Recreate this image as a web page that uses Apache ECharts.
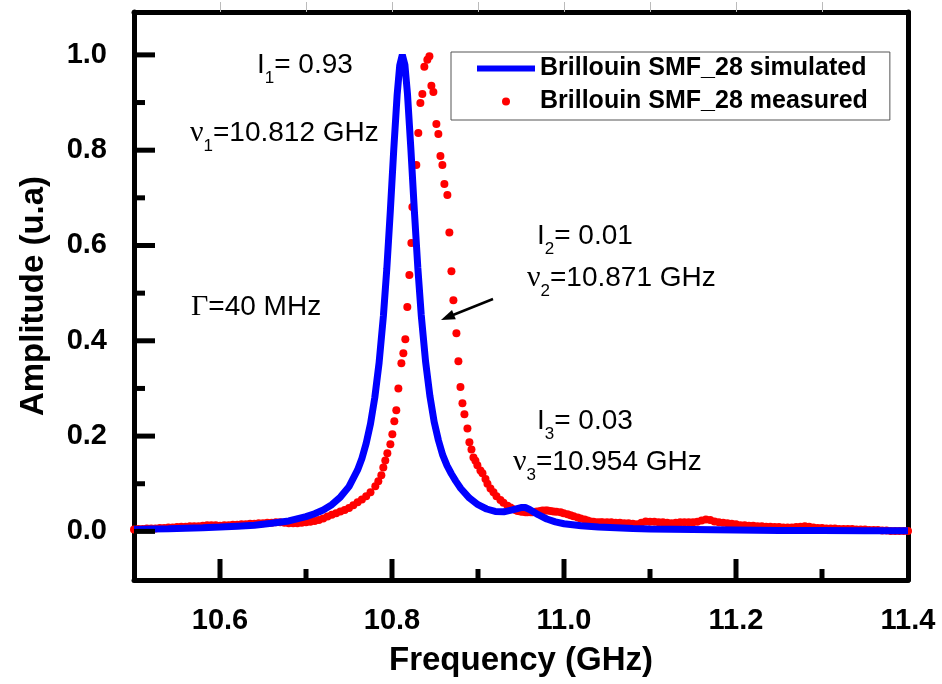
<!DOCTYPE html>
<html><head><meta charset="utf-8">
<script src="https://cdn.jsdelivr.net/npm/echarts@6/dist/echarts.min.js"></script>
<style>html,body{margin:0;padding:0;background:#fff}#c{width:942px;height:684px}</style>
</head><body><div id="c"></div><script>
// ---- data ----
const freqSim = [10.50,10.52,10.54,10.56,10.58,10.60,10.62,10.64,10.66,10.68,10.70,10.71,10.72,10.73,10.74,10.75,10.76,10.765,10.77,10.775,10.78,10.785,10.79,10.794,10.798,10.802,10.806,10.809,10.812,10.815,10.818,10.822,10.826,10.830,10.834,10.839,10.844,10.849,10.854,10.859,10.864,10.869,10.874,10.88,10.89,10.90,10.91,10.92,10.93,10.94,10.95,10.955,10.96,10.97,10.98,10.99,11.00,11.02,11.04,11.06,11.08,11.10,11.15,11.20,11.25,11.30,11.35,11.40];
const ampSim = [0.004,0.005,0.0055,0.0065,0.0075,0.009,0.011,0.013,0.017,0.022,0.031,0.037,0.045,0.056,0.072,0.094,0.129,0.153,0.185,0.226,0.281,0.354,0.452,0.552,0.671,0.800,0.917,0.978,1.0,0.979,0.918,0.801,0.673,0.554,0.454,0.357,0.285,0.230,0.191,0.160,0.138,0.121,0.106,0.090,0.070,0.056,0.047,0.042,0.041,0.045,0.050,0.050,0.046,0.035,0.026,0.020,0.016,0.012,0.009,0.0075,0.006,0.005,0.004,0.003,0.002,0.0017,0.0014,0.0012];

const freqMeas = [10.500,10.505,10.510,10.515,10.520,10.525,10.530,10.535,10.540,10.545,10.550,10.555,10.560,10.565,10.570,10.575,10.580,10.585,10.590,10.595,10.600,10.605,10.610,10.615,10.620,10.625,10.630,10.635,10.640,10.645,10.650,10.655,10.660,10.665,10.670,10.675,10.680,10.685,10.690,10.695,10.700,10.705,10.710,10.715,10.720,10.725,10.730,10.735,10.740,10.745,10.750,10.755,10.760,10.765,10.770,10.775,
10.7806,10.7841,10.7876,10.7899,10.7922,10.7946,10.7981,10.8004,10.8027,10.8050,10.8074,10.8109,10.8132,10.8155,10.8178,10.8202,10.8225,10.8237,10.8283,10.8306,10.8330,10.8353,10.8376,10.8411,10.8435,
10.8458,10.8481,10.8516,10.8539,10.8563,10.8586,10.8609,10.8644,10.8667,10.8691,10.8714,10.8749,10.8772,10.8796,10.8819,10.8842,10.8877,10.8900,10.8924,10.8947,10.8970,10.8993,10.9028,10.9052,10.9087,10.9110,10.9145,10.9180,10.9215,10.9261,10.9296,10.9343,10.9378,10.9401,10.9436,10.9459,10.9494,10.9517,10.9552,10.9576,10.9611,10.9634,10.9669,10.9692,10.9727,10.9750,10.9785,10.9808,10.9843,10.9878,10.9913,10.9960,10.9995,11.0041,11.0076,11.0111,11.0158,11.0193,11.0239,11.0274,11.0309,11.0344,11.0390,11.0426,
11.045,11.050,11.055,11.060,11.065,11.070,11.075,11.080,11.085,11.090,11.095,11.100,11.105,11.110,11.115,11.120,11.125,11.130,11.135,11.140,11.145,11.150,11.155,11.160,11.165,11.170,11.175,11.180,11.185,11.190,11.195,11.200,11.205,11.210,11.215,11.220,11.225,11.230,11.235,11.240,11.245,11.250,11.255,11.260,11.265,11.270,11.275,11.280,11.285,11.290,11.295,11.300,11.305,11.310,11.315,11.320,11.325,11.330,11.335,11.340,11.345,11.350,11.355,11.360,11.365,11.370,11.375,11.380,11.385,11.390,11.395,11.400];
const ampMeas = [0.004,0.005,0.005,0.006,0.006,0.006,0.007,0.007,0.008,0.008,0.009,0.010,0.010,0.011,0.011,0.011,0.012,0.013,0.013,0.013,0.012,0.013,0.013,0.014,0.014,0.015,0.015,0.016,0.016,0.017,0.017,0.018,0.018,0.019,0.019,0.018,0.017,0.017,0.017,0.018,0.019,0.020,0.022,0.024,0.027,0.031,0.035,0.038,0.042,0.045,0.049,0.055,0.061,0.067,0.074,0.082,
0.095,0.105,0.118,0.134,0.149,0.164,0.183,0.204,0.231,0.254,0.300,0.353,0.374,0.403,0.471,0.538,0.605,0.681,0.769,0.836,0.899,0.918,0.975,0.990,0.997,
0.935,0.922,0.855,0.834,0.788,0.769,0.729,0.706,0.627,0.546,0.485,0.416,0.357,0.303,0.269,0.246,0.216,0.187,0.172,0.155,0.148,0.139,0.128,0.122,0.110,0.100,0.090,0.082,0.074,0.066,0.060,0.054,0.050,0.047,0.045,0.043,0.042,0.041,0.040,0.040,0.040,0.040,0.041,0.042,0.043,0.044,0.044,0.044,0.043,0.042,0.041,0.040,0.038,0.036,0.034,0.032,0.029,0.027,0.025,0.023,0.021,0.020,0.019,0.019,
0.019,0.019,0.019,0.018,0.018,0.017,0.017,0.016,0.015,0.018,0.021,0.020,0.020,0.019,0.019,0.018,0.017,0.018,0.019,0.019,0.019,0.019,0.020,0.023,0.025,0.024,0.021,0.019,0.018,0.017,0.016,0.015,0.013,0.013,0.012,0.012,0.011,0.011,0.010,0.010,0.009,0.009,0.008,0.008,0.008,0.009,0.010,0.011,0.010,0.008,0.007,0.007,0.006,0.006,0.006,0.005,0.005,0.005,0.005,0.004,0.004,0.004,0.003,0.003,0.003,0.002,0.002,0.001,0.001,0.001,0.001,0.001];

const xMajor = [10.6, 10.8, 11.0, 11.2, 11.4];
const xMinor = [10.7, 10.9, 11.1, 11.3];
const xTopTicks = [10.6, 10.7, 10.8, 10.9, 11.0, 11.1, 11.2, 11.3];
const yMajor = [0.0, 0.2, 0.4, 0.6, 0.8, 1.0];
const yMinor = [0.1, 0.3, 0.5, 0.7, 0.9];
const seriesNames = ['Brillouin SMF_28 simulated', 'Brillouin SMF_28 measured'];

// ---- chart ----
const F = 'Liberation Sans, Arial, sans-serif';
const XMIN = 10.5, XMAX = 11.4, YMIN = -0.102, YMAX = 1.09;
const chart = echarts.init(document.getElementById('c'));

const rich = {
  t: {fontFamily: F, fontSize: 28, lineHeight: 44, fill: '#000', color: '#000'},
  g: {fontFamily: 'Liberation Serif, Times New Roman, serif', fontSize: 30, lineHeight: 44, fill: '#000', color: '#000'},
  s: {fontFamily: F, fontSize: 17, lineHeight: 17, verticalAlign: 'bottom', fill: '#000', color: '#000'}
};
function ann(x, y, text) {
  return {type: 'text', x: x, y: y, z: 100, style: {text: text, rich: rich, align: 'left', verticalAlign: 'top', fill: '#000'}};
}
const bold = {fontFamily: F, fontWeight: 'bold', color: '#000'};

// tick marks: [x, y, direction (0: x-axis tick, 1: y-axis tick), length px]
const tickData = []
  .concat(xMajor.filter(v => v < XMAX).map(v => [v, YMIN, 0, 21]))
  .concat(xMinor.map(v => [v, YMIN, 0, 11]))
  .concat(yMajor.map(v => [XMIN, v, 1, 21]))
  .concat(yMinor.map(v => [XMIN, v, 1, 11]));

const option = {
  animation: false,
  backgroundColor: '#fff',
  grid: {left: 134, right: 34, top: 12, bottom: 104, containLabel: false, outerBoundsMode: 'none', show: false},
  legend: {
    orient: 'vertical', left: 451, top: 52,
    padding: [4, 22, 6, 26], itemGap: 8, itemWidth: 58, itemHeight: 8,
    borderColor: '#555', borderWidth: 1,
    itemStyle: {borderWidth: 0},
    textStyle: Object.assign({fontSize: 25, lineHeight: 24}, bold),
    data: [
      {name: seriesNames[0], icon: 'path://M0,0H60V6H0Z'},
      {name: seriesNames[1], icon: 'circle'}
    ]
  },
  xAxis: [
    {type: 'value', position: 'bottom', min: XMIN, max: XMAX,
     axisLine: {show: true, onZero: false, lineStyle: {color: '#000', width: 5}},
     axisTick: {show: false},
     axisLabel: Object.assign({show: true, customValues: xMajor, fontSize: 29, margin: 26, showMaxLabel: true, showMinLabel: true,
       formatter: v => v.toFixed(1)}, bold),
     splitLine: {show: false},
     name: 'Frequency (GHz)', nameLocation: 'middle', nameGap: 64,
     nameTextStyle: Object.assign({fontSize: 33}, bold)},
    {type: 'value', position: 'top', min: XMIN, max: XMAX,
     axisLine: {show: true, onZero: false, lineStyle: {color: '#000', width: 5}},
     axisTick: {show: true, inside: false, length: 10, customValues: xTopTicks, lineStyle: {color: '#bbb', width: 1}},
     axisLabel: {show: false}, splitLine: {show: false}}
  ],
  yAxis: [
    {type: 'value', position: 'left', min: YMIN, max: YMAX,
     axisLine: {show: true, onZero: false, lineStyle: {color: '#000', width: 5}},
     axisTick: {show: false},
     axisLabel: Object.assign({show: true, customValues: yMajor, fontSize: 29, margin: 27,
       formatter: v => v.toFixed(1)}, bold),
     splitLine: {show: false},
     name: 'Amplitude (u.a)', nameLocation: 'middle', nameGap: 84,
     nameTextStyle: Object.assign({fontSize: 33}, bold)},
    {type: 'value', position: 'right', min: YMIN, max: YMAX,
     axisLine: {show: true, onZero: false, lineStyle: {color: '#000', width: 5}},
     axisTick: {show: false}, axisLabel: {show: false}, splitLine: {show: false}}
  ],
  series: [
    {name: 'axis ticks', type: 'custom', clip: false, z: 6, encode: {x: 0, y: 1}, data: tickData,
     renderItem: function (params, api) {
       const p = api.coord([api.value(0), api.value(1)]);
       const dir = api.value(2), len = api.value(3);
       const shape = dir === 0
         ? {x1: p[0], y1: p[1], x2: p[0], y2: p[1] - len}
         : {x1: p[0], y1: p[1], x2: p[0] + len, y2: p[1]};
       return {type: 'line', shape: shape, style: {stroke: '#000', lineWidth: 5}};
     }},
    {name: seriesNames[1], type: 'scatter', symbol: 'circle', symbolSize: 8,
     itemStyle: {color: '#ff0000', opacity: 1}, z: 2,
     data: freqMeas.map((f, i) => [f, ampMeas[i]])},
    {name: seriesNames[0], type: 'line', showSymbol: false, symbol: 'none',
     itemStyle: {color: '#0000ff'}, lineStyle: {color: '#0000ff', width: 7}, z: 3,
     data: freqSim.map((f, i) => [f, ampSim[i]])}
  ],
  graphic: [
    ann(257, 43, '{t|I}{s|1}{t|= 0.93}'),
    ann(190, 111, '{g|ν}{s|1}{t|=10.812 GHz}'),
    ann(537, 214, '{t|I}{s|2}{t|= 0.01}'),
    ann(527, 256, '{g|ν}{s|2}{t|=10.871 GHz}'),
    ann(191, 285, '{g|Γ}{t|=40 MHz}'),
    ann(537, 399, '{t|I}{s|3}{t|= 0.03}'),
    ann(513, 440, '{g|ν}{s|3}{t|=10.954 GHz}'),
    {type: 'line', z: 100, shape: {x1: 493, y1: 299, x2: 453, y2: 315}, style: {stroke: '#000', lineWidth: 2.5}},
    {type: 'polygon', z: 100, shape: {points: [[441, 320], [455.8, 319.3], [452.0, 310.1]]}, style: {fill: '#000'}}
  ]
};
chart.setOption(option);
</script></body></html>
